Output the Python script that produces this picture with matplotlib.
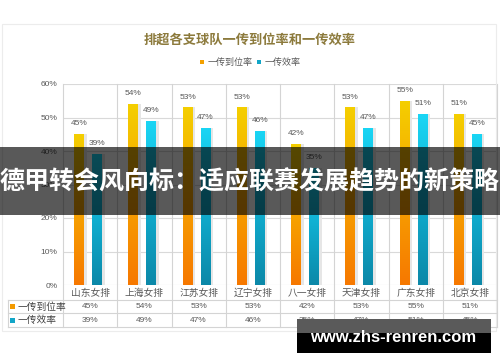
import numpy as np
import matplotlib
matplotlib.use("Agg")
import matplotlib.pyplot as plt
from matplotlib.colors import LinearSegmentedColormap
from matplotlib.patches import Rectangle
from matplotlib.transforms import blended_transform_factory
from matplotlib.lines import Line2D

plt.rcParams['font.family'] = ['Noto Sans CJK SC', 'DejaVu Sans']

title = "排超各支球队一传到位率和一传效率"
series_names = ["一传到位率", "一传效率"]
categories = ["山东女排", "上海女排", "江苏女排", "辽宁女排", "八一女排", "天津女排", "广东女排", "北京女排"]
pass_rate = [45, 54, 53, 53, 42, 53, 55, 51]
pass_eff = [39, 49, 47, 46, 35, 47, 51, 45]
yticks = [0, 10, 20, 30, 40, 50, 60]
banner_text = "德甲转会风向标：适应联赛发展趋势的新策略"
watermark = "www.zhs-renren.com"

W, H = 500, 362
fig = plt.figure(figsize=(W / 100, H / 100), dpi=100)
fig.patch.set_facecolor("white")

def fx(px):
    return px / W

def fy(py):
    return 1 - py / H

ax_l, ax_r, ax_t, ax_b = 63, 497, 84, 285
ax = fig.add_axes([fx(ax_l), fy(ax_b), fx(ax_r - ax_l), (ax_b - ax_t) / H])
ax.set_facecolor("none")
for s in ax.spines.values():
    s.set_visible(False)

n = len(categories)
x = np.arange(n)
bw = 0.184
off1, off2 = -0.203, 0.129

grid_c = "#d9d9d9"
for yv in yticks:
    ax.axhline(yv, color=grid_c, lw=0.8, zorder=0)

cmap_o = LinearSegmentedColormap.from_list("o", ["#f67800", "#f7a400", "#f4cf00"])
cmap_c = LinearSegmentedColormap.from_list("c", ["#0c88a8", "#10aed0", "#1ad6f5"])

def grad_bars(xs, vals, cmap):
    # shadow
    ax.bar(xs + 0.045, vals, width=bw, color="#e6e6e6", zorder=2, linewidth=0)
    bars = ax.bar(xs, vals, width=bw, facecolor="none", edgecolor="none", zorder=3)
    grad = np.linspace(0, 1, 256).reshape(-1, 1)
    for r in bars:
        x0, y0, w, h = r.get_x(), r.get_y(), r.get_width(), r.get_height()
        im = ax.imshow(grad, extent=[x0, x0 + w, y0, y0 + h], origin="lower",
                       cmap=cmap, aspect="auto", zorder=3)
        im.set_clip_path(r)
    for xi, v in zip(xs, vals):
        ax.annotate(f"{v}%", (xi, v), xytext=(0, 5), textcoords="offset points",
                    ha="center", va="bottom", fontsize=6, color="#595959",
                    family="Liberation Sans")

grad_bars(x + off1, pass_rate, cmap_o)
grad_bars(x + off2, pass_eff, cmap_c)

ax.set_xlim(-0.5, n - 0.5)
ax.set_ylim(0, 60)
ax.set_xticks([])
ax.set_yticks(yticks)
ax.set_yticklabels([f"{v}%" for v in yticks], fontsize=6, color="#595959", family="Liberation Sans")
ax.tick_params(axis="y", length=0, pad=4)

# table / column lines
tb = blended_transform_factory(ax.transData, fig.transFigure)
colw_px = (ax_r - ax_l) / n
x_left = -0.5 - (ax_l - 8) / colw_px
line_c = "#d4d4d4"
for b in np.arange(n + 1) - 0.5:
    fig.add_artist(Line2D([b, b], [fy(ax_t), fy(327)], transform=tb, color=line_c, lw=0.8))
fig.add_artist(Line2D([x_left, x_left], [fy(300), fy(327)], transform=tb, color=line_c, lw=0.8))
for py in (300, 313, 327):
    fig.add_artist(Line2D([x_left, n - 0.5], [fy(py), fy(py)], transform=tb, color=line_c, lw=0.8))

for i, c in enumerate(categories):
    fig.text(i, fy(292.5), c, transform=tb, ha="center", va="center", fontsize=7, color="#595959")
    fig.text(i, fy(306.5), f"{pass_rate[i]}%", transform=tb, ha="center", va="center",
             fontsize=6, color="#595959", family="Liberation Sans")
    fig.text(i, fy(320), f"{pass_eff[i]}%", transform=tb, ha="center", va="center",
             fontsize=6, color="#595959", family="Liberation Sans")

for py, name, col in ((306.5, series_names[0], "#f39a00"), (320, series_names[1], "#12a6c8")):
    fig.patches.append(Rectangle((fx(10), fy(py + 2.5)), fx(5), 5 / H, transform=fig.transFigure,
                                 facecolor=col, edgecolor="none"))
    fig.text(fx(18), fy(py), name, ha="left", va="center", fontsize=7, color="#404040")

# outer chart border
fig.patches.append(Rectangle((fx(2), fy(331)), fx(494), (331 - 24) / H, transform=fig.transFigure,
                             facecolor="none", edgecolor="#ececec", lw=0.8, zorder=0))

# title
fig.text(0.5, fy(40), title, ha="center", va="center", fontsize=9.5, fontweight="bold", color="#8c7a3c")

# legend
lx = 200
fig.patches.append(Rectangle((fx(lx), fy(64)), fx(4), 4 / H, transform=fig.transFigure,
                             facecolor="#f3a000", edgecolor="none"))
fig.text(fx(lx + 8), fy(62), series_names[0], ha="left", va="center", fontsize=6.5, color="#595959")
fig.patches.append(Rectangle((fx(257), fy(64)), fx(4), 4 / H, transform=fig.transFigure,
                             facecolor="#12a6c8", edgecolor="none"))
fig.text(fx(265), fy(62), series_names[1], ha="left", va="center", fontsize=6.5, color="#595959")

# banner overlay
fig.patches.append(Rectangle((0, fy(215)), 1, (215 - 147) / H, transform=fig.transFigure,
                             facecolor="black", alpha=0.65, edgecolor="none", zorder=10))
fig.text(0.5, fy(182), banner_text, ha="center", va="center", fontsize=18, fontweight="bold",
         color="white", zorder=11)

# watermark
fig.patches.append(Rectangle((fx(297), fy(333)), fx(194), (333 - 319) / H, transform=fig.transFigure,
                             facecolor="#5a5a5a", edgecolor="none", zorder=10))
fig.patches.append(Rectangle((fx(297), fy(353)), fx(194), (353 - 333) / H, transform=fig.transFigure,
                             facecolor="black", edgecolor="none", zorder=10))
fig.text(fx(393), fy(337), watermark, ha="center", va="center", fontsize=12, fontweight="bold",
         color="white", family="Liberation Sans", zorder=11)

fig.savefig("out.png", dpi=100)
